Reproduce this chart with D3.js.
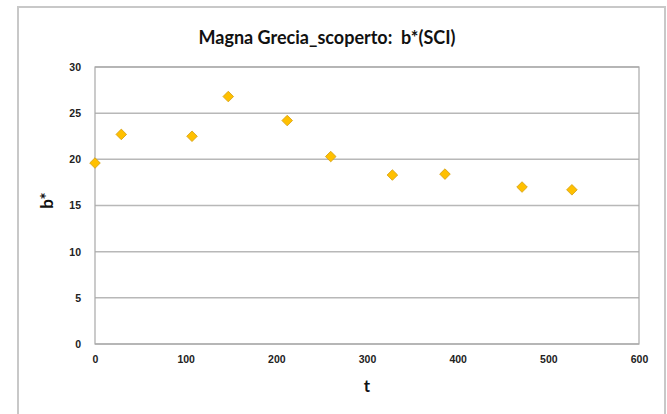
<!DOCTYPE html>
<html>
<head>
<meta charset="utf-8">
<script src="https://cdn.jsdelivr.net/npm/d3@7"></script>
<style>
  body { margin: 0; background: #fff; }
  .tick text { font-family: "Liberation Sans", Arial, sans-serif; font-weight: bold; font-size: 10.5px; fill: #222; }
  .title { white-space: pre; }
</style>
</head>
<body>
<script>
// data
var tValues = [0, 29, 107, 147, 212, 260, 328, 386, 471, 526];
var bValues = [19.6, 22.7, 22.5, 26.8, 24.2, 20.3, 18.3, 18.4, 17.0, 16.7];
var xTicks = [0, 100, 200, 300, 400, 500, 600];
var yTicks = [0, 5, 10, 15, 20, 25, 30];

var svgWidth = 667;
var svgHeight = 414;
var margin = { top: 67, right: 28, bottom: 70, left: 95 };
var width = 639 - margin.left;
var height = 344 - margin.top;

var svg = d3.select("body")
  .append("svg")
  .attr("width", svgWidth)
  .attr("height", svgHeight);

// outer chart frame
svg.append("rect")
  .attr("x", 18)
  .attr("y", 7)
  .attr("width", 647)
  .attr("height", 420)
  .attr("fill", "none")
  .attr("stroke", "#c8c8c8")
  .attr("stroke-width", 2);

var chartGroup = svg.append("g")
  .attr("transform", `translate(${margin.left}, ${margin.top})`);

var xLinearScale = d3.scaleLinear().domain([0, 600]).range([0, width]);
var yLinearScale = d3.scaleLinear().domain([0, 30]).range([height, 0]);

// gridlines
chartGroup.selectAll(".grid")
  .data(yTicks)
  .enter()
  .append("line")
  .attr("x1", 0)
  .attr("x2", width)
  .attr("y1", d => yLinearScale(d))
  .attr("y2", d => yLinearScale(d))
  .attr("stroke", "#b8b8b8")
  .attr("stroke-width", 1.5);

// plot border
chartGroup.append("rect")
  .attr("width", width)
  .attr("height", height)
  .attr("fill", "none")
  .attr("stroke", "#a8a8a8")
  .attr("stroke-width", 1.2);

var bottomAxis = d3.axisBottom(xLinearScale).tickValues(xTicks).tickSize(0).tickPadding(12);
var leftAxis = d3.axisLeft(yLinearScale).tickValues(yTicks).tickSize(0).tickPadding(14);

chartGroup.append("g")
  .attr("transform", `translate(0, ${height})`)
  .call(bottomAxis)
  .call(g => g.select(".domain").remove());

chartGroup.append("g")
  .call(leftAxis)
  .call(g => g.select(".domain").remove());

// diamond markers
var diamond = d3.symbol().type(d3.symbolSquare).size(56);
chartGroup.selectAll(".pt")
  .data(tValues)
  .enter()
  .append("path")
  .attr("d", diamond)
  .attr("transform", (d, i) => `translate(${xLinearScale(d)}, ${yLinearScale(bValues[i])}) rotate(45)`)
  .attr("fill", "#ffc000")
  .attr("stroke", "#d4a017")
  .attr("stroke-width", 0.8);

// title
svg.append("text")
  .attr("class", "title")
  .attr("x", 327)
  .attr("y", 44)
  .attr("text-anchor", "middle")
  .attr("font-family", "Lato, 'Open Sans', sans-serif")
  .attr("font-weight", "bold")
  .attr("font-size", "18px")
  .attr("fill", "#111")
  .text("Magna Grecia_scoperto:  b*(SCI)");

// axis labels
chartGroup.append("text")
  .attr("transform", "rotate(-90)")
  .attr("x", 0 - (height / 2) + 5)
  .attr("y", 47 - margin.left)
  .attr("dy", "0.35em")
  .attr("text-anchor", "middle")
  .attr("font-family", "Lato, sans-serif")
  .attr("font-weight", "bold")
  .attr("font-size", "17px")
  .attr("fill", "#111")
  .text("b*");

chartGroup.append("text")
  .attr("x", width / 2)
  .attr("y", 392 - margin.top)
  .attr("text-anchor", "middle")
  .attr("font-family", "Lato, sans-serif")
  .attr("font-weight", "bold")
  .attr("font-size", "17px")
  .attr("fill", "#111")
  .text("t");
</script>
</body>
</html>
